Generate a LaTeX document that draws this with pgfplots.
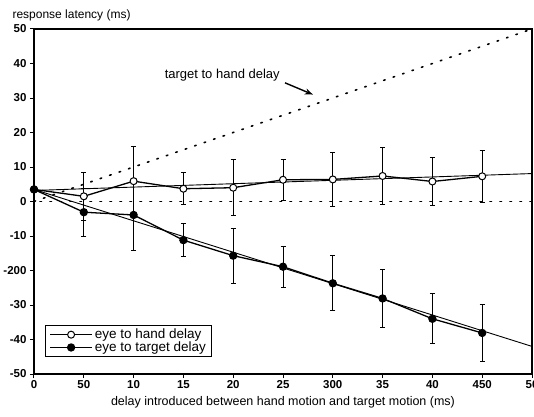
\documentclass[border=0pt]{standalone}
\usepackage{pgfplots}
\pgfplotsset{compat=1.18}
\usepackage{pgfplotstable}
\usepackage{fontspec}
\setmainfont{Liberation Sans}
\usetikzlibrary{arrows.meta}

% mean latency and error (ms) per introduced delay
\pgfplotstableread{
x y e
0 3.5 0
50 1.5 7
100 5.9 9.9
150 3.7 4.6
200 4.0 8.2
250 6.3 6
300 6.4 7.8
350 7.4 8.2
400 5.8 6.9
450 7.3 7.6
}\handdata
\pgfplotstableread{
x y e
0 3.5 0
50 -3.1 7
100 -3.9 10.4
150 -11.2 4.8
200 -15.7 8
250 -18.9 6
300 -23.7 8
350 -28.1 8.5
400 -34.0 7.2
450 -38.1 8.2
}\targetdata

\begin{document}
\begin{tikzpicture}
\begin{axis}[
    width=498pt, height=345pt, scale only axis,
    xmin=0, xmax=500, ymin=-50, ymax=50,
    clip=false,
    axis line style={line width=1.2pt},
    tick align=outside, xtick pos=bottom, ytick pos=left,
    major tick length=4pt,
    tick style={line width=1pt, black},
    xtick={0,50,...,500},
    xticklabels={0,50,10,15,20,25,300,35,40,450,50},
    ytick={-50,-40,...,50},
    yticklabels={-50,-40,-30,-200,-10,0,10,20,30,40,50},
    ticklabel style={font=\fontsize{11.5}{13}\selectfont\bfseries},
    xticklabel style={yshift=1pt},
    xlabel={delay introduced between hand motion and target motion (ms)},
    xlabel style={font=\fontsize{12.5}{14}\selectfont, yshift=-1pt},
    legend style={at={(rel axis cs:0.022,0.049)}, anchor=south west,
        draw=black, line width=1pt, font=\fontsize{13.5}{15}\selectfont,
        inner xsep=4pt, inner ysep=1.5pt, row sep=-2.5pt},
    legend cell align=left,
    legend image code/.code={\draw[mark repeat=2, mark phase=2, #1]
        plot coordinates {(0pt,0pt) (21pt,0pt) (42pt,0pt)};},
]
\addplot[black, line width=1.6pt, dash pattern=on 1.6pt off 8.4pt, line cap=round, forget plot]
    coordinates {(0,0) (500,50)};
\addplot[black, line width=1.6pt, dash pattern=on 1.6pt off 8.4pt, line cap=round, forget plot]
    coordinates {(6,0) (500,0)};
\addplot[black, line width=0.9pt, forget plot] coordinates {(0,3.2) (500,8.1)};
\addplot[black, line width=0.9pt, forget plot] coordinates {(0,3.5) (500,-42)};

\addplot[black, line width=1.3pt, mark=*, mark size=3.5pt,
    mark options={fill=white, line width=1pt},
    error bars/.cd, y dir=both, y explicit,
    error bar style={line width=1pt},
    error mark options={rotate=90, mark size=2.5pt, line width=1pt}]
    table[x=x, y=y, y error=e] {\handdata};
\addlegendentry{eye to hand delay}
\addplot[black, line width=1.3pt, mark=*, mark size=3.5pt,
    mark options={fill=black},
    error bars/.cd, y dir=both, y explicit,
    error bar style={line width=1pt},
    error mark options={rotate=90, mark size=2.5pt, line width=1pt}]
    table[x=x, y=y, y error=e] {\targetdata};
\addlegendentry{eye to target delay}

\node[font=\fontsize{13}{15}\selectfont] at (axis cs:189,36.7) {target to hand delay};
\draw[-{Stealth[length=8pt, width=6pt]}, line width=1.4pt] (axis cs:252,34.4) -- (axis cs:280,31);
\node[anchor=west, font=\fontsize{12}{14}\selectfont] at ([xshift=-25pt, yshift=14pt]rel axis cs:0,1) {response latency (ms)};
\coordinate (bl) at (rel axis cs:0,0);
\coordinate (tr) at (rel axis cs:1,1);
\end{axis}
\pgfresetboundingbox
\path[use as bounding box] ([xshift=-34pt, yshift=-42pt]bl) rectangle ([xshift=2pt, yshift=29pt]tr);
\end{tikzpicture}
\end{document}
